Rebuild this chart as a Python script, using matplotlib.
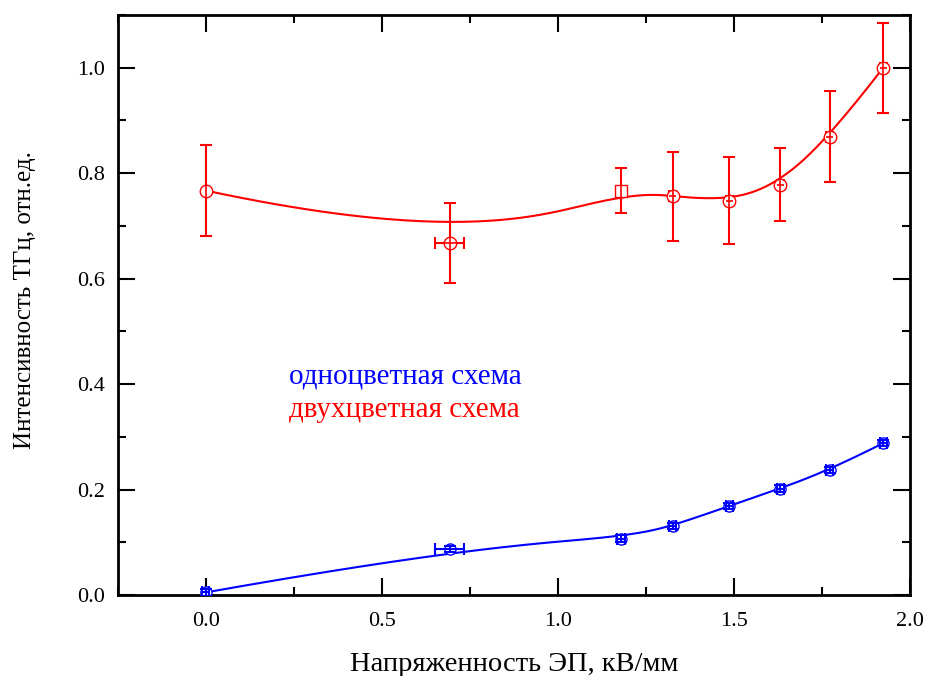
import numpy as np
import matplotlib
matplotlib.use("Agg")
import matplotlib.pyplot as plt
from matplotlib.ticker import MultipleLocator, FormatStrFormatter

plt.rcParams['font.family'] = ['Liberation Serif', 'DejaVu Serif']

# Data
x_red = [0.0, 0.692, 1.179, 1.326, 1.486, 1.632, 1.772, 1.924]
y_red = [0.767, 0.668, 0.767, 0.756, 0.748, 0.778, 0.869, 1.000]
yerr_red = [0.086, 0.076, 0.042, 0.085, 0.083, 0.069, 0.086, 0.085]
xerr_red = [0.0, 0.040, 0.0, 0.01, 0.01, 0.01, 0.01, 0.01]
markers_red = ['o', 'o', 's', 'o', 'o', 'o', 'o', 'o']

x_blue = [0.0, 0.692, 1.179, 1.326, 1.486, 1.632, 1.772, 1.924]
y_blue = [0.005, 0.087, 0.107, 0.131, 0.169, 0.202, 0.237, 0.288]
yerr_blue = [0.006, 0.006, 0.006, 0.006, 0.006, 0.006, 0.006, 0.006]
xerr_blue = [0.01, 0.040, 0.01, 0.01, 0.01, 0.01, 0.01, 0.01]

label_blue = "одноцветная схема"
label_red = "двухцветная схема"
xlabel = "Напряженность ЭП, кВ/мм"
ylabel = "Интенсивность ТГц, отн.ед."


def bspline(px, py, degree=3, n=400):
    """Clamped uniform B-spline using the data points as control points."""
    P = np.column_stack([px, py]).astype(float)
    m = len(P)
    k = degree
    inner = np.linspace(0, 1, m - k + 1)
    knots = np.concatenate([np.zeros(k), inner, np.ones(k)])
    ts = np.linspace(0, 1, n)
    out = []
    for t in ts:
        if t >= 1.0:
            out.append(P[-1]); continue
        s = np.searchsorted(knots, t, side='right') - 1
        d = [P[j + s - k].copy() for j in range(k + 1)]
        for r in range(1, k + 1):
            for j in range(k, r - 1, -1):
                i = j + s - k
                a = (t - knots[i]) / (knots[i + k + 1 - r] - knots[i])
                d[j] = (1 - a) * d[j - 1] + a * d[j]
        out.append(d[k])
    out = np.array(out)
    return out[:, 0], out[:, 1]


fig = plt.figure(figsize=(9.26, 6.76), dpi=100)
ax = fig.add_axes([0.1274, 0.1198, 0.8553, 0.858])

red = '#ff0000'
blue = '#0000ff'

# red series
sx, sy = bspline(x_red, y_red)
ax.plot(sx, sy, color=red, lw=1.5, zorder=2)
ax.errorbar(x_red, y_red, yerr=yerr_red, xerr=xerr_red, fmt='none',
            ecolor=red, elinewidth=1.5, capsize=4.5, capthick=1.5, zorder=3)
for xi, yi, m in zip(x_red, y_red, markers_red):
    ax.plot(xi, yi, marker=m, ms=9, mfc='white', mec=red, mew=1.0,
            zorder=4, ls='none')
ax.errorbar(x_red, y_red, yerr=yerr_red, xerr=xerr_red, fmt='none',
            ecolor=red, elinewidth=1.2, capsize=0, zorder=5)

# blue series
bx, by = bspline(x_blue, y_blue)
ax.plot(bx, by, color=blue, lw=1.5, zorder=2)
ax.plot(x_blue, y_blue, marker='o', ms=8, mfc='white', mec=blue, mew=1.0,
        zorder=4, ls='none')
ax.errorbar(x_blue, y_blue, yerr=yerr_blue, xerr=xerr_blue, fmt='none',
            ecolor=blue, elinewidth=1.5, capsize=4.5, capthick=1.5, zorder=5)

ax.text(0.236, 0.414, label_blue, color=blue, fontsize=21, ha='left', va='center')
ax.text(0.236, 0.351, label_red, color=red, fontsize=21, ha='left', va='center')

ax.set_xlim(-0.25, 2.0)
ax.set_ylim(0.0, 1.1)
ax.xaxis.set_major_locator(MultipleLocator(0.5))
ax.xaxis.set_minor_locator(MultipleLocator(0.25))
ax.yaxis.set_major_locator(MultipleLocator(0.2))
ax.yaxis.set_minor_locator(MultipleLocator(0.1))
ax.xaxis.set_major_formatter(FormatStrFormatter('%.1f'))
ax.yaxis.set_major_formatter(FormatStrFormatter('%.1f'))
ax.tick_params(which='both', direction='in', top=True, right=True,
               labelsize=16, width=1.5)
ax.tick_params(axis='y', which='major', pad=9)
ax.tick_params(axis='x', which='major', pad=12)
ax.tick_params(which='major', length=12)
ax.tick_params(which='minor', length=6)
for sp in ax.spines.values():
    sp.set_linewidth(2)

fig.text(514 / 926, 1 - 671 / 676, xlabel, fontsize=20.5, ha='center', va='baseline')
fig.text(25 / 926, 1 - 300 / 676, ylabel, fontsize=18, ha='center', va='center',
         rotation=90)

fig.savefig('out.png', dpi=100)
